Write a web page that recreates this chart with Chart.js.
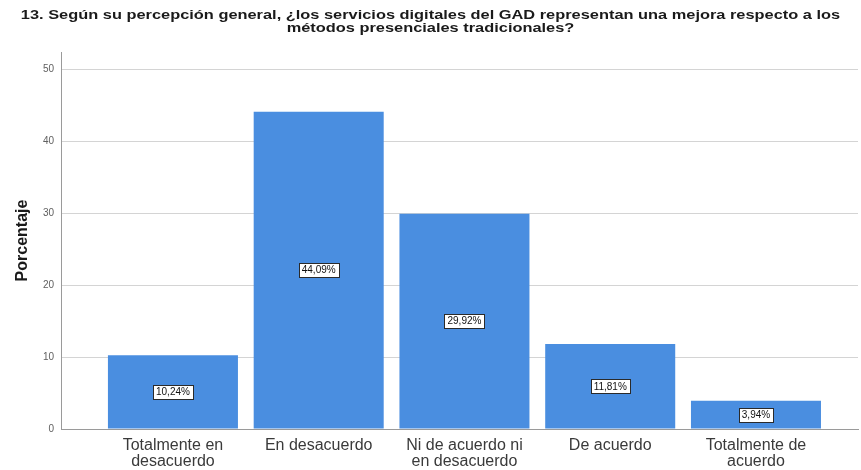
<!DOCTYPE html>
<html>
<head>
<meta charset="utf-8">
<script src="https://cdn.jsdelivr.net/npm/chart.js@4/dist/chart.umd.min.js"></script>
<style>
  html, body { margin: 0; padding: 0; background: #ffffff; }
  #wrap { width: 861px; height: 470px; position: relative; }
</style>
</head>
<body>
<div id="wrap"><canvas id="chart"></canvas></div>
<script>
// Survey answers (categories) and their share of respondents in percent
const categories = [
  ['Totalmente en', 'desacuerdo'],
  ['En desacuerdo'],
  ['Ni de acuerdo ni', 'en desacuerdo'],
  ['De acuerdo'],
  ['Totalmente de', 'acuerdo']
];
const percentages = [10.24, 44.09, 29.92, 11.81, 3.94];
const yTickValues = [0, 10, 20, 30, 40, 50];
const chartTitle = [
  '13. Según su percepción general, ¿los servicios digitales del GAD representan una mejora respecto a los',
  'métodos presenciales tradicionales?'
];
const yAxisTitle = 'Porcentaje';

const FONT = '"Liberation Sans", Arial, sans-serif';

// Formats a value with a decimal comma, e.g. 10,24%
function pct(v) {
  return v.toFixed(2).replace('.', ',') + '%';
}

// Wide, condensed-height heading drawn above the plot
const wideTitle = {
  id: 'wideTitle',
  afterDraw(chart) {
    const ctx = chart.ctx;
    const stretch = 1.26;
    const cx = chart.width / 2;
    ctx.save();
    ctx.font = 'bold 13px ' + FONT;
    ctx.fillStyle = '#1a1a1a';
    ctx.textAlign = 'center';
    ctx.textBaseline = 'middle';
    ctx.translate(cx, 0);
    ctx.scale(stretch, 1);
    chartTitle.forEach((line, i) => {
      ctx.fillText(line, 0, 15 + i * 13);
    });
    ctx.restore();
  }
};

// Boxed value label drawn in the middle of each bar
const boxedLabels = {
  id: 'boxedLabels',
  afterDatasetsDraw(chart) {
    const ctx = chart.ctx;
    const meta = chart.getDatasetMeta(0);
    ctx.save();
    ctx.font = '10px ' + FONT;
    ctx.textAlign = 'center';
    ctx.textBaseline = 'middle';
    meta.data.forEach((bar, i) => {
      const text = pct(percentages[i]);
      const cx = bar.x;
      const cy = (bar.y + bar.base) / 2;
      const w = Math.round(ctx.measureText(text).width) + 6;
      const h = 14;
      const x0 = Math.round(cx - w / 2) + 0.5;
      const y0 = Math.round(cy - h / 2) + 0.5;
      ctx.fillStyle = '#ffffff';
      ctx.fillRect(x0, y0, w, h);
      ctx.strokeStyle = '#2a2a2a';
      ctx.lineWidth = 1;
      ctx.strokeRect(x0, y0, w, h);
      ctx.fillStyle = '#111111';
      ctx.fillText(text, cx, cy + 0.5);
    });
    ctx.restore();
  }
};

new Chart(document.getElementById('chart'), {
  type: 'bar',
  data: {
    datasets: [{
      data: percentages.map((v, i) => ({ x: i, y: v })),
      backgroundColor: '#4a8ee0',
      borderWidth: 0,
      barPercentage: 0.892,
      categoryPercentage: 1.0
    }]
  },
  options: {
    responsive: true,
    maintainAspectRatio: false,
    animation: false,
    layout: { padding: { left: 0, right: 3, top: 52, bottom: 0 } },
    plugins: {
      legend: { display: false },
      tooltip: { enabled: false },
      title: { display: false }
    },
    scales: {
      x: {
        type: 'linear',
        min: -0.768,
        max: 4.70,
        offset: false,
        grid: { display: false, offset: false, drawTicks: false },
        border: { display: true, color: '#9a9a9a', width: 1 },
        afterBuildTicks(scale) {
          scale.ticks = categories.map((_, i) => ({ value: i }));
        },
        afterFit(scale) { scale.height = 41; },
        ticks: {
          autoSkip: false,
          maxRotation: 0,
          padding: 9,
          color: '#3a3a3a',
          font: { family: FONT, size: 16, lineHeight: 1.0 },
          callback: (v) => categories[v] || ''
        }
      },
      y: {
        min: 0,
        max: 52.4,
        grid: { color: '#d4d4d4', lineWidth: 1, drawTicks: false },
        border: { display: true, color: '#9a9a9a', width: 1 },
        afterBuildTicks(scale) {
          scale.ticks = yTickValues.map(v => ({ value: v }));
        },
        afterFit(scale) { scale.width = 61; },
        ticks: {
          padding: 7,
          color: '#606060',
          font: { family: FONT, size: 10 }
        },
        title: {
          display: true,
          text: yAxisTitle,
          color: '#1a1a1a',
          font: { family: FONT, size: 16, weight: 'bold' },
          padding: { top: 13, bottom: 0 }
        }
      }
    }
  },
  plugins: [boxedLabels, wideTitle]
});
</script>
</body>
</html>
